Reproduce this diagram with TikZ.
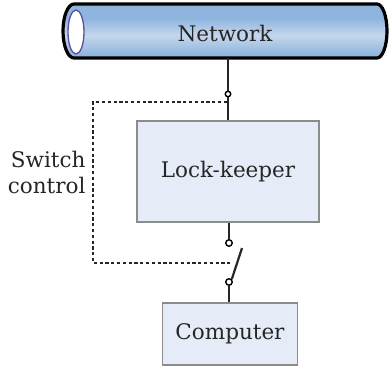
\documentclass[tikz,border=0pt]{standalone}
\usepackage{fontspec}
\setmainfont{DejaVu Serif}
\definecolor{pipetop}{HTML}{6F9DD0}
\definecolor{pipemid}{HTML}{8DB5DE}
\definecolor{pipehi}{HTML}{C6D6EC}
\definecolor{pipebot}{HTML}{4E80B6}
\definecolor{boxfill}{HTML}{E6ECF7}
\definecolor{boxline}{HTML}{8C8C8C}
\definecolor{rimline}{HTML}{5A4FA0}
\pgfdeclareverticalshading{pipeshade}{100bp}{color(0bp)=(pipebot); color(28bp)=(pipemid);
  color(46bp)=(pipehi); color(62bp)=(pipemid); color(85bp)=(pipemid); color(100bp)=(pipetop)}

\begin{document}
\begin{tikzpicture}[x=1pt,y=-1pt,
  lbl/.style={font=\fontsize{21.5}{26}\selectfont,text=black!85},
  unit/.style={draw=boxline,fill=boxfill,line width=1.3pt,lbl,inner sep=0pt},
  wire/.style={line width=2.7pt,black!85},
  ctrl/.style={line width=2.7pt,dash pattern=on 3.2pt off 2.6pt,black!85},
  pin/.style={circle,draw,line width=1.4pt,fill=white,inner sep=0pt,minimum size=6.5pt}]
  \useasboundingbox (0,0) rectangle (391,368);
  % the network pipe
  \draw[line width=3.2pt,shading=pipeshade]
    (74,4) -- (377,4) arc[start angle=-90,end angle=90,x radius=10,y radius=27]
    -- (74,58) arc[start angle=90,end angle=270,x radius=11,y radius=27] -- cycle;
  \draw[rimline,fill=white,line width=1.3pt] (76,32) ellipse[x radius=8,y radius=22];
  \node[lbl] (net) at (225,33) {Network};
  \coordinate (tap) at (228,58);
  % boxes
  \node[unit,minimum width=182pt,minimum height=101pt] (lock) at (228,171.5) {Lock-keeper};
  \node[unit,minimum width=135pt,minimum height=62pt] (comp) at (230,334) {Computer};
  % switches
  \node[pin,minimum size=5.5pt] (sw1) at (228,94) {};
  \node[pin] (sw2a) at (229,243) {};
  \node[pin] (sw2b) at (229,282) {};
  \coordinate (lever) at (242,248);
  \draw[wire] (tap) -- (sw1) -- (lock.north);
  \draw[wire] (lock.south-|sw2a) -- (sw2a);
  \draw[wire] (sw2b) -- (comp.north-|sw2b);
  \draw[wire,line width=2.2pt] (sw2b.north east) -- (lever);
  % control line
  \coordinate (c1) at (227,102);
  \coordinate (c2) at (231,263);
  \draw[ctrl] (c1) -- (93,102) -- (93,263) -- (c2);
  \node[lbl,align=right,anchor=east] (sc) at (89,172) {Switch\\control};
\end{tikzpicture}
\end{document}
